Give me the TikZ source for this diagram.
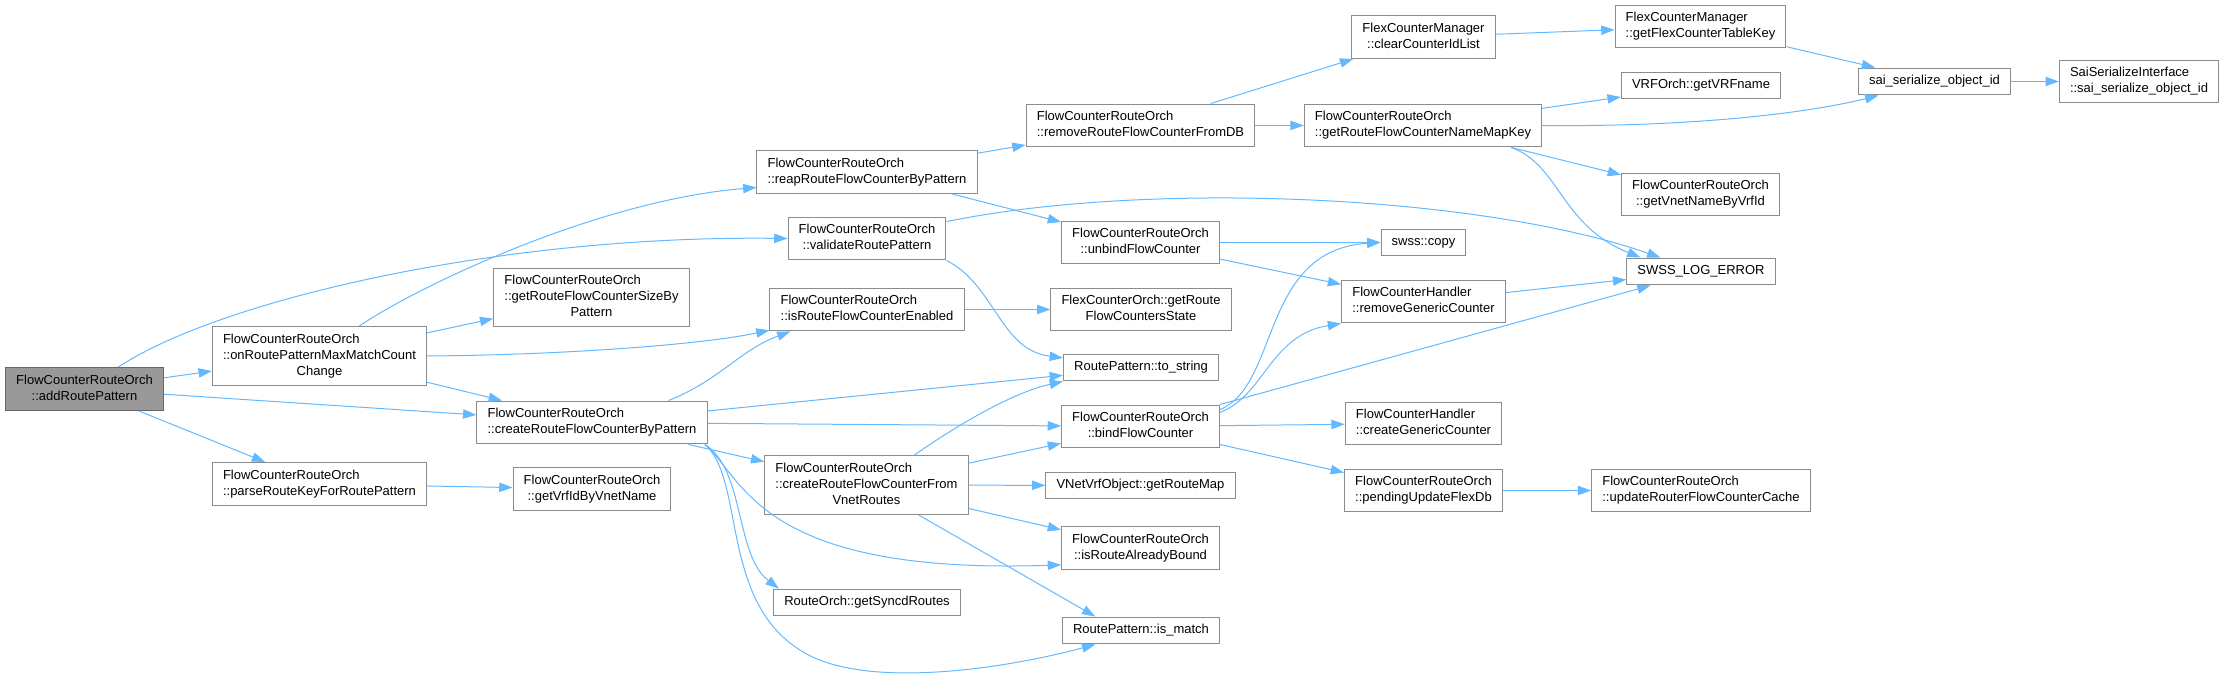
\documentclass[tikz,border=0pt]{standalone}
\usepackage{fontspec}
\usepackage{xcolor}
\usepackage{tikz}
\usetikzlibrary{arrows.meta}

\newfontfamily\dxfont{Liberation Sans}
\definecolor{dxedge}{HTML}{63B8FF}
\definecolor{dxline}{HTML}{8C8C8C}
\definecolor{dxroot}{HTML}{999999}
\newcommand{\fone}[1]{\begin{tabular}{@{}c@{}}#1\end{tabular}}
\newcommand{\ftwo}[2]{\begin{tabular}{@{}l@{}}#1\\\multicolumn{1}{@{}c@{}}{#2}\end{tabular}}
\newcommand{\fthree}[3]{\begin{tabular}{@{}l@{}}#1\\#2\\\multicolumn{1}{@{}c@{}}{#3}\end{tabular}}

\begin{document}
\begin{tikzpicture}[x=0.75pt, y=-0.75pt,
    every node/.style={font=\dxfont\fontsize{9.75}{12}\selectfont},
    fn/.style={draw=dxline, line width=0.75pt, fill=white, inner xsep=8pt, inner ysep=4.1pt},
    root/.style={fn, fill=dxroot, draw=black!60},
    calls/.style={color=dxedge, line width=0.75pt, -{Triangle[length=10pt,width=7pt]}}]
    \useasboundingbox (0,0) rectangle (2225,680);
    % caller and first level
    \node[root] (add) at (84.5,389) {\ftwo{FlowCounterRouteOrch}{::addRoutePattern}};
    \node[fn] (onRP) at (319.5,356) {\fthree{FlowCounterRouteOrch}{::onRoutePatternMaxMatchCount}{Change}};
    \node[fn] (parse) at (319.5,484) {\ftwo{FlowCounterRouteOrch}{::parseRouteKeyForRoutePattern}};
    \node[fn] (sizeBy) at (591.5,297.5) {\fthree{FlowCounterRouteOrch}{::getRouteFlowCounterSizeBy}{Pattern}};
    \node[fn] (createBP) at (592,422.5) {\ftwo{FlowCounterRouteOrch}{::createRouteFlowCounterByPattern}};
    \node[fn] (vrfId) at (592,489) {\ftwo{FlowCounterRouteOrch}{::getVrfIdByVnetName}};
    \node[fn] (reap) at (867,172) {\ftwo{FlowCounterRouteOrch}{::reapRouteFlowCounterByPattern}};
    \node[fn] (validate) at (867,238.5) {\ftwo{FlowCounterRouteOrch}{::validateRoutePattern}};
    \node[fn] (isEnabled) at (867,309.5) {\ftwo{FlowCounterRouteOrch}{::isRouteFlowCounterEnabled}};
    \node[fn] (createFV) at (866.5,485) {\fthree{FlowCounterRouteOrch}{::createRouteFlowCounterFrom}{VnetRoutes}};
    \node[fn] (syncd) at (867,602.5) {\fone{RouteOrch::getSyncdRoutes}};
    % middle column
    \node[fn] (removeDB) at (1140.5,125.5) {\ftwo{FlowCounterRouteOrch}{::removeRouteFlowCounterFromDB}};
    \node[fn] (unbind) at (1140.5,242.5) {\ftwo{FlowCounterRouteOrch}{::unbindFlowCounter}};
    \node[fn] (flexState) at (1141,309.5) {\ftwo{FlexCounterOrch::getRoute}{FlowCountersState}};
    \node[fn] (toString) at (1141,367.5) {\fone{RoutePattern::to\_string}};
    \node[fn] (bind) at (1140.5,426.5) {\ftwo{FlowCounterRouteOrch}{::bindFlowCounter}};
    \node[fn] (routeMap) at (1140.5,485.5) {\fone{VNetVrfObject::getRouteMap}};
    \node[fn] (bound) at (1140.5,548) {\ftwo{FlowCounterRouteOrch}{::isRouteAlreadyBound}};
    \node[fn] (isMatch) at (1141,630.5) {\fone{RoutePattern::is\_match}};
    \node[fn] (clearIds) at (1423.5,37) {\ftwo{FlexCounterManager}{::clearCounterIdList}};
    \node[fn] (nameKey) at (1423,125.5) {\ftwo{FlowCounterRouteOrch}{::getRouteFlowCounterNameMapKey}};
    \node[fn] (copy) at (1423.5,242.5) {\fone{swss::copy}};
    \node[fn] (removeGen) at (1423.5,301.5) {\ftwo{FlowCounterHandler}{::removeGenericCounter}};
    \node[fn] (createGen) at (1423.5,423.5) {\ftwo{FlowCounterHandler}{::createGenericCounter}};
    \node[fn] (pending) at (1423.5,490.5) {\ftwo{FlowCounterRouteOrch}{::pendingUpdateFlexDb}};
    % right side
    \node[fn] (tableKey) at (1700.5,26.5) {\ftwo{FlexCounterManager}{::getFlexCounterTableKey}};
    \node[fn] (vrfName) at (1701,85.5) {\fone{VRFOrch::getVRFname}};
    \node[fn] (vnetName) at (1700.5,194.5) {\ftwo{FlowCounterRouteOrch}{::getVnetNameByVrfId}};
    \node[fn] (logError) at (1701,271.5) {\fone{SWSS\_LOG\_ERROR}};
    \node[fn] (updCache) at (1701,490.5) {\ftwo{FlowCounterRouteOrch}{::updateRouterFlowCounterCache}};
    \node[fn] (saiSer) at (1934.5,81.5) {\fone{sai\_serialize\_object\_id}};
    \node[fn] (saiIface) at (2139,81.5) {\ftwo{SaiSerializeInterface}{::sai\_serialize\_object\_id}};
    % calls
    \draw[calls] (add) -- (onRP);
    \draw[calls] (add) -- (parse);
    \draw[calls] (add) -- (createBP);
    \draw[calls] (add.33) .. controls (220,300) and (500,235) .. (validate.west);
    \draw[calls] (onRP.37) .. controls (420,285) and (600,200) .. (reap.188);
    \draw[calls] (onRP) -- (sizeBy);
    \draw[calls] (onRP.east) .. controls (560,355) and (700,345) .. (isEnabled.192);
    \draw[calls] (onRP) -- (createBP);
    \draw[calls] (parse) -- (vrfId);
    \draw[calls] (createBP.16) .. controls (720,380) and (740,350) .. (isEnabled.196);
    \draw[calls] (createBP) -- (toString);
    \draw[calls] (createBP) -- (bind);
    \draw[calls] (createBP) -- (createFV);
    \draw[calls] (createBP.-11) .. controls (745,480) and (760,575) .. (bound.192);
    \draw[calls] (createBP.-11) .. controls (745,470) and (735,555) .. (syncd.171);
    \draw[calls] (createBP.-11) .. controls (745,480) and (720,600) .. (800,650)
        .. controls (860,690) and (1000,670) .. (isMatch.197);
    \draw[calls] (createFV.32) .. controls (950,430) and (1010,393) .. (toString.south west);
    \draw[calls] (createFV) -- (bind);
    \draw[calls] (createFV) -- (routeMap);
    \draw[calls] (createFV) -- (bound);
    \draw[calls] (createFV) -- (isMatch.163);
    \draw[calls] (validate.south east) .. controls (995,285) and (1000,350) .. (toString.173);
    \draw[calls] (validate.12) .. controls (1150,180) and (1480,195) .. (logError.161);
    \draw[calls] (reap) -- (removeDB);
    \draw[calls] (reap) -- (unbind);
    \draw[calls] (removeDB) -- (clearIds);
    \draw[calls] (removeDB) -- (nameKey);
    \draw[calls] (clearIds) -- (tableKey);
    \draw[calls] (tableKey) -- (saiSer);
    \draw[calls] (nameKey) -- (vrfName);
    \draw[calls] (nameKey.east) .. controls (1680,127) and (1800,115) .. (saiSer.194);
    \draw[calls] (nameKey) -- (vnetName);
    \draw[calls] (nameKey.-14) .. controls (1560,165) and (1560,225) .. (logError.167);
    \draw[calls] (saiSer) -- (saiIface);
    \draw[calls] (unbind) -- (copy);
    \draw[calls] (unbind) -- (removeGen);
    \draw[calls] (isEnabled) -- (flexState);
    \draw[calls] (bind.12) .. controls (1280,385) and (1260,250) .. (copy.west);
    \draw[calls] (bind.10) .. controls (1265,395) and (1270,335) .. (removeGen.south west);
    \draw[calls] (bind) -- (logError);
    \draw[calls] (bind) -- (createGen);
    \draw[calls] (bind) -- (pending);
    \draw[calls] (removeGen) -- (logError);
    \draw[calls] (pending) -- (updCache);
\end{tikzpicture}
\end{document}
